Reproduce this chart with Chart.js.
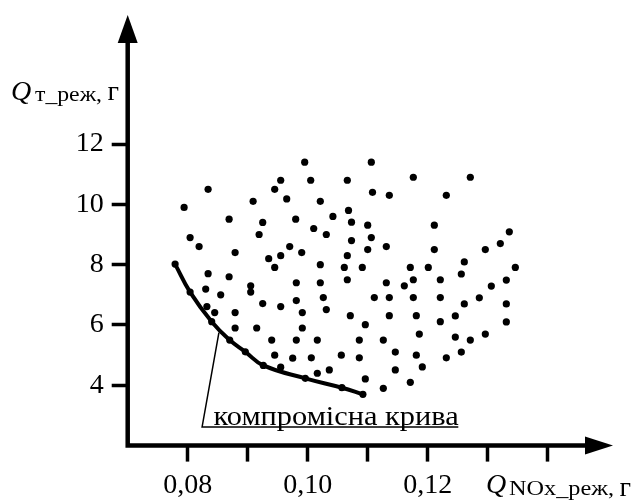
<!DOCTYPE html>
<html>
<head>
<meta charset="utf-8">
<script src="https://cdn.jsdelivr.net/npm/chart.js"></script>
<style>
  html, body { margin: 0; padding: 0; background: #fff; }
</style>
</head>
<body>
<canvas id="chart" width="632" height="503"></canvas>
<script>
// x: Q_NOx_реж, г   y: Q_т_реж, г
var qNox = [0.0834,0.0794,0.0955,0.0945,0.0909,0.0965,0.0869,0.0925,0.0980,0.0919,
            0.0804,0.0819,0.0879,0.0970,0.0955,0.0935,0.0945,0.0990,0.1010,0.1031,
            0.1042,0.1021,0.1021,0.0834,0.0869,0.0995,0.1106,0.1005,0.1066,0.1176,
            0.1108,0.1136,0.1231,0.1068,0.1073,0.1100,0.1211,0.1073,0.1106,0.1100,
            0.1131,0.1211,0.1066,0.1061,0.1091,0.1171,0.1201,0.1271,0.1336,0.1321,
            0.1296,0.1261,0.1346,0.0981,0.0905,0.0905,0.0830,0.0855,0.0981,0.0925,
            0.0955,0.0845,0.0879,0.0879,0.0915,0.0940,0.0981,0.0945,0.0975,0.0955,
            0.1021,0.1066,0.1131,0.1161,0.1176,0.1221,0.1026,0.1111,0.1136,0.1176,
            0.1221,0.0991,0.1031,0.1071,0.1096,0.1136,0.1181,0.1221,0.0991,0.1016,
            0.1086,0.1126,0.1186,0.1146,0.1181,0.1006,0.1056,0.1086,0.1231,0.1036,
            0.1016,0.1146,0.1191,0.1096,0.1171,0.1126,0.1256,0.1331,0.1306,0.1286,
            0.1261,0.1331,0.1246,0.1331,0.1296,0.1246,0.1271,0.1256,0.0832];
var qFuel = [10.50,9.90,10.80,10.50,10.10,10.18,9.51,9.40,9.51,9.00,
             8.90,8.60,8.40,8.60,8.30,8.20,7.91,8.40,9.20,9.00,
             9.60,10.10,8.00,7.70,7.60,11.40,11.40,10.80,10.80,10.90,
             10.40,10.30,10.30,9.80,9.41,9.31,9.31,8.80,8.90,8.50,
             8.60,8.50,8.30,7.91,7.91,7.91,7.91,10.90,9.09,8.70,
             8.50,8.09,7.91,7.40,7.30,7.09,7.19,7.00,6.81,6.71,
             6.61,6.41,6.41,5.90,5.90,5.50,5.50,5.00,4.90,4.60,
             7.40,7.50,7.40,7.30,7.50,7.50,6.91,6.91,6.91,6.91,
             6.91,6.41,6.51,6.31,6.01,6.31,6.31,6.11,5.90,5.50,
             5.50,5.50,5.70,5.10,5.00,4.91,5.00,4.91,4.91,4.51,
             4.40,4.51,4.61,4.21,4.10,3.90,7.69,7.49,7.29,6.90,
             6.70,6.70,6.30,6.10,5.70,5.60,5.50,5.10,6.61];

// компромісна крива
var paretoNox  = [0.0779,0.0804,0.0840,0.0870,0.0896,0.0926,0.0996,0.1057,0.1092];
var paretoFuel = [8.02,7.09,6.11,5.50,5.11,4.66,4.23,3.92,3.70];

var xTicks = [0.08,0.09,0.10,0.11,0.12,0.13,0.14];
var xTickLabels = ['0,08','','0,10','','0,12','',''];
var yTicks = [4,6,8,10,12];
var yTickLabels = ['4','6','8','10','12'];

var serif = "'Liberation Serif', 'DejaVu Serif', serif";

function fitText(ctx, str, x, y, font, w) {
    ctx.font = font;
    var m = ctx.measureText(str).width;
    ctx.save();
    ctx.translate(x, y);
    ctx.scale(w / m, 1);
    ctx.fillText(str, 0, 0);
    ctx.restore();
}

function noPad(s) {
    s.paddingTop = 0;
    s.paddingBottom = 0;
    s.paddingLeft = 0;
    s.paddingRight = 0;
}

var decor = {
    id: 'decor',
    afterDraw: function(chart) {
        var ctx = chart.ctx, a = chart.chartArea;
        var xs = chart.scales.x, ys = chart.scales.y;
        ctx.save();
        ctx.fillStyle = '#000';
        ctx.strokeStyle = '#000';

        // axes with arrows
        ctx.lineWidth = 4.5;
        ctx.beginPath();
        ctx.moveTo(a.left, a.bottom + 2.2);
        ctx.lineTo(a.left, a.top + 26);
        ctx.moveTo(a.left - 2.2, a.bottom);
        ctx.lineTo(a.right - 26, a.bottom);
        ctx.stroke();
        ctx.beginPath();
        ctx.moveTo(a.left, a.top);
        ctx.lineTo(a.left - 10, a.top + 28);
        ctx.lineTo(a.left + 10, a.top + 28);
        ctx.closePath();
        ctx.fill();
        ctx.beginPath();
        ctx.moveTo(a.right, a.bottom);
        ctx.lineTo(a.right - 28, a.bottom - 9);
        ctx.lineTo(a.right - 28, a.bottom + 9);
        ctx.closePath();
        ctx.fill();

        // leader + underline
        ctx.lineWidth = 1.5;
        var lx0 = xs.getPixelForValue(0.0824), ly0 = ys.getPixelForValue(2.62);
        var lx1 = xs.getPixelForValue(0.0852), ly1 = ys.getPixelForValue(5.75);
        ctx.beginPath();
        ctx.moveTo(lx1, ly1);
        ctx.lineTo(lx0, ly0);
        ctx.lineTo(xs.getPixelForValue(0.1251), ly0);
        ctx.stroke();

        ctx.textBaseline = 'alphabetic';
        ctx.textAlign = 'left';
        fitText(ctx, 'компромісна крива', lx0 + 11.5, ly0 - 2, '28px ' + serif, 245);

        // y title
        ctx.font = 'italic 28px ' + serif;
        ctx.fillText('Q', 11, 100);
        fitText(ctx, 'т_реж,', 35, 101, '20px ' + serif, 67);
        ctx.font = '28px ' + serif;
        ctx.fillText('г', 107.5, 100);

        // x title
        ctx.font = 'italic 28px ' + serif;
        ctx.fillText('Q', 486, 493);
        fitText(ctx, 'NOx_реж,', 509, 495, '20px ' + serif, 105);
        ctx.font = '28px ' + serif;
        ctx.fillText('г', 619.5, 496);
        ctx.restore();
    }
};

var pts = qNox.map(function(v, i) { return { x: v, y: qFuel[i] }; });
var curve = paretoNox.map(function(v, i) { return { x: v, y: paretoFuel[i] }; });

var ctx = document.getElementById('chart').getContext('2d');
var chart = new Chart(ctx, {
    type: 'scatter',
    data: {
        datasets: [
            {
                data: curve,
                showLine: true,
                borderColor: '#000',
                borderWidth: 4,
                borderCapStyle: 'round',
                tension: 0.45,
                pointRadius: 3.6,
                pointBackgroundColor: '#000',
                pointBorderWidth: 0
            },
            {
                data: pts,
                pointRadius: 3.6,
                pointBackgroundColor: '#000',
                pointBorderWidth: 0
            }
        ]
    },
    options: {
        responsive: false,
        animation: false,
        devicePixelRatio: 1,
        layout: { padding: { top: 15, right: 19, left: 0, bottom: 0 } },
        plugins: {
            legend: { display: false },
            tooltip: { enabled: false }
        },
        scales: {
            x: {
                type: 'linear',
                min: 0.07,
                max: 0.15088,
                afterFit: function(s) { s.height = 57.4; noPad(s); },
                afterBuildTicks: function(s) { s.ticks = xTicks.map(function(v) { return { value: v }; }); },
                ticks: {
                    callback: function(v, i) { return xTickLabels[i]; },
                    autoSkip: false,
                    maxRotation: 0,
                    padding: 7,
                    color: '#000',
                    font: { size: 28, family: serif }
                },
                grid: { drawOnChartArea: false, tickLength: 16, tickWidth: 3.5, tickColor: '#000' },
                border: { display: false }
            },
            y: {
                type: 'linear',
                min: 2,
                max: 16.28,
                afterFit: function(s) { s.width = 127.7; noPad(s); },
                afterBuildTicks: function(s) { s.ticks = yTicks.map(function(v) { return { value: v }; }); },
                ticks: {
                    callback: function(v, i) { return yTickLabels[i]; },
                    autoSkip: false,
                    padding: 8,
                    color: '#000',
                    font: { size: 28, family: serif }
                },
                grid: { drawOnChartArea: false, tickLength: 16, tickWidth: 3.5, tickColor: '#000' },
                border: { display: false }
            }
        }
    },
    plugins: [decor]
});
</script>
</body>
</html>
